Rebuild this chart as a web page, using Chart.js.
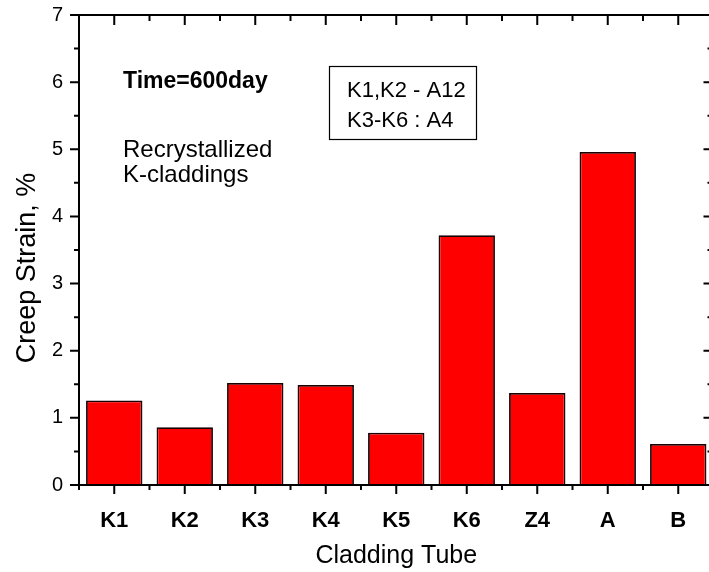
<!DOCTYPE html>
<html>
<head>
<meta charset="utf-8">
<title>Creep Strain - Cladding Tube</title>
<script src="https://cdn.jsdelivr.net/npm/chart.js@4.4.0/dist/chart.umd.min.js"></script>
<style>
  html, body { margin: 0; padding: 0; background: #fff; overflow: hidden; }
  #wrap { width: 716px; height: 572px; }
</style>
</head>
<body>
<div id="wrap"><canvas id="creepChart" width="716" height="572"></canvas></div>
<script>
// data
const tubes = ['K1', 'K2', 'K3', 'K4', 'K5', 'K6', 'Z4', 'A', 'B'];
const creepStrain = [1.26, 0.86, 1.52, 1.49, 0.78, 3.72, 1.37, 4.96, 0.61];
const yTicks = [0, 1, 2, 3, 4, 5, 6, 7];
const notes = ['Time=600day', 'Recrystallized', 'K-claddings'];
const boxLines = ['K1,K2 - A12', 'K3-K6 : A4'];

const FONT = '"Liberation Sans", Arial, sans-serif';

// frame, in/out ticks, titles and notes (Origin style)
const originFrame = {
    id: 'originFrame',
    afterDatasetsDraw(chart) {
        const { ctx, chartArea: a, scales: { x, y } } = chart;
        const step = x.getPixelForValue(1) - x.getPixelForValue(0);

        ctx.save();
        ctx.strokeStyle = '#000';
        ctx.lineWidth = 2;
        ctx.strokeRect(a.left, a.top, a.right - a.left, a.bottom - a.top);

        ctx.beginPath();
        yTicks.forEach((v, i) => {
            const py = y.getPixelForValue(v);
            ctx.moveTo(a.left - 9, py); ctx.lineTo(a.left, py);
            ctx.moveTo(a.right, py); ctx.lineTo(a.right - 10, py);
            if (i < yTicks.length - 1) {
                const pm = y.getPixelForValue(v + 0.5);
                ctx.moveTo(a.left - 5, pm); ctx.lineTo(a.left, pm);
                ctx.moveTo(a.right, pm); ctx.lineTo(a.right - 6, pm);
            }
        });
        tubes.forEach((t, i) => {
            const px = x.getPixelForValue(i);
            const pb = px - step / 2;
            ctx.moveTo(px, a.bottom); ctx.lineTo(px, a.bottom + 9);
            ctx.moveTo(px, a.top); ctx.lineTo(px, a.top + 10);
            ctx.moveTo(pb, a.bottom); ctx.lineTo(pb, a.bottom + 5);
            ctx.moveTo(pb, a.top); ctx.lineTo(pb, a.top + 6);
        });
        ctx.stroke();
        ctx.restore();
    },
    afterDraw(chart) {
        const { ctx, chartArea: a } = chart;
        ctx.save();
        ctx.fillStyle = '#000';
        ctx.textBaseline = 'alphabetic';

        // axis titles
        ctx.font = `25px ${FONT}`;
        ctx.textAlign = 'center';
        ctx.fillText('Cladding Tube', (a.left + a.right) / 2, 563);
        ctx.save();
        ctx.translate(35, 268);
        ctx.rotate(-Math.PI / 2);
        ctx.font = `27px ${FONT}`;
        ctx.fillText('Creep Strain, %', 0, 0);
        ctx.restore();

        // notes
        ctx.textAlign = 'left';
        ctx.font = `bold 23px ${FONT}`;
        ctx.fillText(notes[0], 123, 88);
        ctx.font = `24px ${FONT}`;
        ctx.fillText(notes[1], 123, 157);
        ctx.fillText(notes[2], 123, 182);

        // box
        ctx.lineWidth = 1.2;
        ctx.strokeStyle = '#000';
        ctx.strokeRect(329.5, 66.5, 147, 73);
        ctx.font = `22px ${FONT}`;
        ctx.fillText(boxLines[0], 347, 97);
        ctx.fillText(boxLines[1], 347, 127);
        ctx.restore();
    }
};

const ctx = document.getElementById('creepChart').getContext('2d');

new Chart(ctx, {
    type: 'bar',
    data: {
        labels: tubes,
        datasets: [{
            data: creepStrain,
            backgroundColor: '#ff0000',
            borderColor: '#1a0000',
            borderWidth: 1.8,
            barPercentage: 0.8,
            categoryPercentage: 1.0
        }]
    },
    options: {
        responsive: false,
        animation: false,
        devicePixelRatio: 1,
        layout: {
            padding: { left: 0, right: 2.5, top: 15, bottom: 0 }
        },
        plugins: {
            legend: { display: false },
            tooltip: { enabled: false }
        },
        scales: {
            x: {
                grid: { display: false },
                border: { display: false },
                ticks: {
                    color: '#000',
                    padding: 15,
                    font: { family: FONT, size: 22, weight: 'bold' }
                },
                afterFit(scale) {
                    scale.height = 87;
                    scale.paddingLeft = 0;
                    scale.paddingRight = 0;
                }
            },
            y: {
                min: 0,
                max: 7,
                grid: { display: false },
                border: { display: false },
                ticks: {
                    stepSize: 1,
                    color: '#000',
                    padding: 8,
                    font: { family: FONT, size: 20 }
                },
                afterFit(scale) {
                    scale.width = 79;
                    scale.paddingTop = 0;
                    scale.paddingBottom = 0;
                }
            }
        }
    },
    plugins: [originFrame]
});
</script>
</body>
</html>
